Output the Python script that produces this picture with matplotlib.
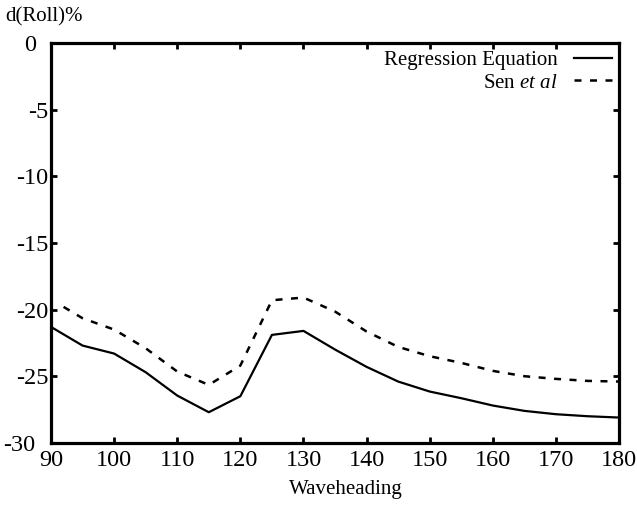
import matplotlib
matplotlib.use('Agg')
import matplotlib.pyplot as plt
from matplotlib.transforms import ScaledTranslation

plt.rcParams['font.family'] = ['Liberation Serif', 'DejaVu Serif']
plt.rcParams['mathtext.fontset'] = 'custom'
plt.rcParams['mathtext.rm'] = 'Liberation Serif'
plt.rcParams['mathtext.it'] = 'Liberation Serif:italic'
plt.rcParams['axes.unicode_minus'] = False

# data
heading_reg = [90, 95, 100, 105, 110, 115, 120, 125, 130, 135, 140, 145, 150, 155, 160, 165, 170, 175, 180]
roll_reg = [-21.3, -22.7, -23.3, -24.7, -26.45, -27.7, -26.5, -21.9, -21.6, -23.0, -24.3, -25.4, -26.15,
            -26.65, -27.2, -27.6, -27.85, -28.0, -28.1]
heading_sen = [92, 95, 100, 105, 110, 115, 120, 125, 130, 135, 140, 145, 150, 155, 160, 165, 170, 175, 180]
roll_sen = [-19.8, -20.65, -21.5, -22.9, -24.65, -25.65, -24.2, -19.3, -19.1, -20.15, -21.65, -22.8, -23.5,
            -24.0, -24.6, -25.0, -25.2, -25.35, -25.4]

fig = plt.figure(figsize=(6.37, 5.05), dpi=100)
ax = fig.add_axes([0.080, 0.123, 0.892, 0.792])

ax.plot(heading_reg, roll_reg, color='black', lw=1.6, label='Regression Equation')
ax.plot(heading_sen, roll_sen, color='black', lw=1.8, dashes=(2.8, 3.4), label=r'Sen $\mathit{et\ al}$')

ax.set_xlim(90, 180)
ax.set_ylim(-30, 0)
ax.set_xticks(range(90, 181, 10))
ax.set_yticks(range(-30, 1, 5))
ax.tick_params(direction='in', length=4, width=2, labelsize=17.5, top=True, right=True)
ax.tick_params(axis='y', pad=2)
ax.tick_params(axis='x', pad=5)
for s in ax.spines.values():
    s.set_linewidth(2.3)

# the end labels of the y axis sit a little further left, as in the original
shift = ScaledTranslation(-9 / 72, 0, fig.dpi_scale_trans)
ylabels = ax.get_yticklabels()
for lab in (ylabels[0], ylabels[-1]):
    lab.set_transform(lab.get_transform() + shift)

fig.text(0.543, 0.012, 'Waveheading', fontsize=15, ha='center', va='bottom')
fig.text(0.008, 0.948, 'd(Roll)%', fontsize=15, ha='left', va='bottom')

ax.legend(loc='upper right', frameon=False, markerfirst=False, fontsize=15,
          handlelength=1.8, handletextpad=0.8, labelspacing=0.15, borderpad=0.1,
          borderaxespad=0.25)

fig.savefig('out.png', dpi=100)
